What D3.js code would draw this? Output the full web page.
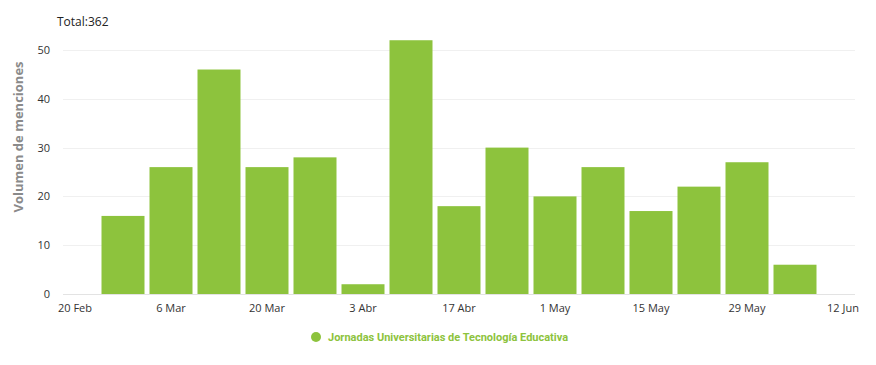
<!DOCTYPE html>
<html>
<head>
<meta charset="utf-8">
<script src="https://cdn.jsdelivr.net/npm/d3@7"></script>
<style>
  body { margin: 0; background: #fff; }
  svg { display: block; font-family: "Open Sans", "DejaVu Sans", sans-serif; }
</style>
</head>
<body>
<svg id="chart" width="876" height="365"></svg>
<script>
// weekly mentions, one bar per week (Monday)
const weeks = ['2017-02-27', '2017-03-06', '2017-03-13', '2017-03-20', '2017-03-27',
  '2017-04-03', '2017-04-10', '2017-04-17', '2017-04-24', '2017-05-01',
  '2017-05-08', '2017-05-15', '2017-05-22', '2017-05-29', '2017-06-05'];
const mentions = [16, 26, 46, 26, 28, 2, 52, 18, 30, 20, 26, 17, 22, 27, 6];
const tickDates = ['2017-02-20', '2017-03-06', '2017-03-20', '2017-04-03', '2017-04-17',
  '2017-05-01', '2017-05-15', '2017-05-29', '2017-06-12'];
const tickLabels = ['20 Feb', '6 Mar', '20 Mar', '3 Abr', '17 Abr', '1 May', '15 May', '29 May', '12 Jun'];
const yTicks = [0, 10, 20, 30, 40, 50];
const seriesName = 'Jornadas Universitarias de Tecnología Educativa';

const parse = d3.timeParse('%Y-%m-%d');
const barColor = '#8dc33d';

const svg = d3.select('#chart');
const plotLeft = 63;
const plotRight = 855;

// x: time scale, first and last tick set by the picture
const x = d3.scaleTime()
  .domain([parse(tickDates[0]), parse(tickDates[tickDates.length - 1])])
  .range([75, 843]);
const y = d3.scaleLinear().domain([0, 50]).range([294, 50]);

const weekPx = x(parse('2017-03-06')) - x(parse('2017-02-27'));
const barW = weekPx - 5;

// gridlines
svg.append('g')
  .selectAll('line')
  .data(yTicks)
  .enter()
  .append('line')
  .attr('x1', plotLeft)
  .attr('x2', plotRight)
  .attr('y1', (d) => Math.round(y(d)) + 0.5)
  .attr('y2', (d) => Math.round(y(d)) + 0.5)
  .style('stroke', (d) => (d === 0 ? '#e3e3e3' : '#f0f0f0'))
  .style('stroke-width', 1);

// y labels
svg.append('g')
  .selectAll('text')
  .data(yTicks)
  .enter()
  .append('text')
  .attr('x', 50)
  .attr('y', (d) => y(d) + 4)
  .attr('text-anchor', 'end')
  .style('font-size', '11px')
  .style('fill', '#333')
  .text((d) => d);

// y title
svg.append('text')
  .attr('transform', 'translate(23, 137) rotate(-90)')
  .attr('text-anchor', 'middle')
  .style('font-size', '13px')
  .style('font-weight', 700)
  .style('fill', '#8a8a8a')
  .text('Volumen de menciones');

// bars
svg.append('g')
  .selectAll('rect')
  .data(mentions)
  .enter()
  .append('rect')
  .attr('x', (d, i) => x(parse(weeks[i])) - barW / 2)
  .attr('y', (d) => y(d))
  .attr('width', barW)
  .attr('height', (d) => y(0) - y(d))
  .style('fill', barColor);

// x labels
svg.append('g')
  .selectAll('text')
  .data(tickDates)
  .enter()
  .append('text')
  .attr('x', (d) => x(parse(d)))
  .attr('y', 312)
  .attr('text-anchor', 'middle')
  .style('font-size', '11px')
  .style('fill', '#333')
  .text((d, i) => tickLabels[i]);

// total
svg.append('text')
  .attr('x', 57)
  .attr('y', 26)
  .style('font-size', '12px')
  .style('fill', '#222')
  .text(`Total:${d3.sum(mentions)}`);

// legend
const legend = svg.append('g').attr('transform', 'translate(316, 337)');
legend.append('circle').attr('r', 5).style('fill', barColor);
legend.append('text')
  .attr('x', 12)
  .attr('y', 4)
  .style('font-family', 'Roboto, sans-serif')
  .style('font-size', '11px')
  .style('font-weight', 700)
  .style('fill', barColor)
  .text(seriesName);
</script>
</body>
</html>
